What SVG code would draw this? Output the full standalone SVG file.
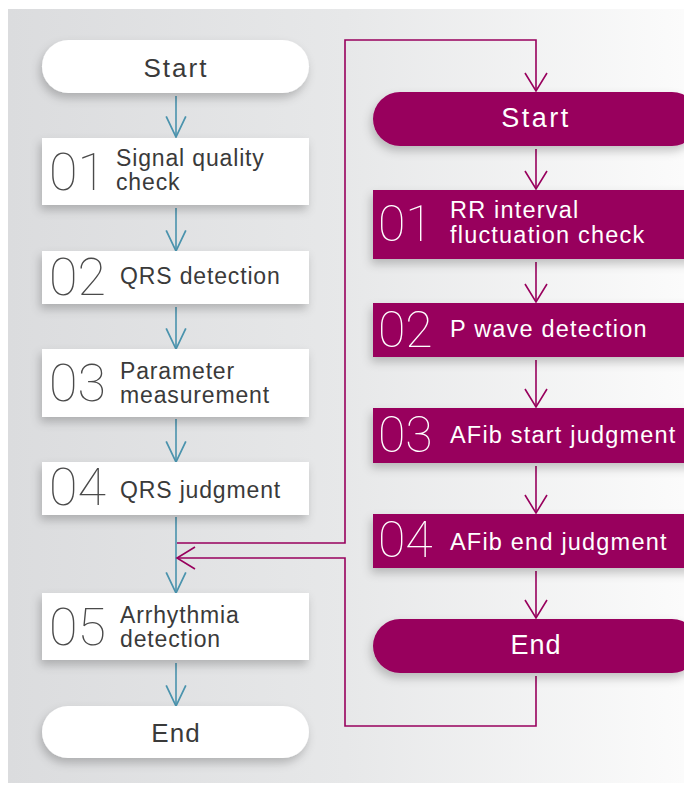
<svg xmlns="http://www.w3.org/2000/svg" width="684" height="785" viewBox="0 0 684 785">
<defs>
<linearGradient id="bg" x1="0" y1="0" x2="1" y2="0">
<stop offset="0" stop-color="#dbdcde"/>
<stop offset="0.5" stop-color="#e7e8e9"/>
<stop offset="1" stop-color="#fbfbfb"/>
</linearGradient>
<filter id="sh" x="-20%" y="-30%" width="140%" height="170%">
<feDropShadow dx="-2" dy="5" stdDeviation="5" flood-color="#000" flood-opacity="0.22"/>
</filter>
<marker id="ab" markerUnits="userSpaceOnUse" markerWidth="24" markerHeight="24" viewBox="-21 -11 22 22" refX="0" refY="0" orient="auto">
<path d="M-19,-9 L0,0 L-19,9" fill="none" stroke="#4a93ad" stroke-width="1.6"/>
</marker>
<marker id="ap" markerUnits="userSpaceOnUse" markerWidth="24" markerHeight="26" viewBox="-20 -13 22 26" refX="0" refY="0" orient="auto">
<path d="M-18,-11 L0,0 L-18,11" fill="none" stroke="#98005d" stroke-width="1.6"/>
</marker>
</defs>
<style>
.wb{fill:#ffffff;filter:url(#sh)}
.pb{fill:#98005d;filter:url(#sh)}
.bl{fill:none;stroke:#4a93ad;stroke-width:1.6;marker-end:url(#ab)}
.pl{fill:none;stroke:#98005d;stroke-width:1.6}
.pa{marker-end:url(#ap)}
.lt{font-family:"Liberation Sans",Arial,sans-serif;font-size:23px;letter-spacing:0.85px;fill:#3a3a3a}
.rt{font-family:"Liberation Sans",Arial,sans-serif;font-size:23.5px;letter-spacing:1.2px;fill:#ffffff}
.ln{font-family:Roboto,"Open Sans",sans-serif;font-weight:100;font-size:52px;fill:#4a4a4a}
.rn{font-family:Roboto,"Open Sans",sans-serif;font-weight:100;font-size:50px;fill:#ffffff}
.lterm{font-family:"Liberation Sans",Arial,sans-serif;font-size:26px;fill:#3a3a3a;text-anchor:middle}
.rterm{font-family:"Liberation Sans",Arial,sans-serif;font-size:27px;fill:#ffffff;text-anchor:middle}
</style>
<rect x="0" y="0" width="684" height="785" fill="#ffffff"/>
<rect x="8" y="9" width="676" height="774" fill="url(#bg)"/>

<g id="connectors">
<line class="bl" x1="176" y1="96" x2="176" y2="137"/>
<line class="bl" x1="176" y1="208" x2="176" y2="251"/>
<line class="bl" x1="176" y1="307" x2="176" y2="349"/>
<line class="bl" x1="176" y1="419" x2="176" y2="462"/>
<line class="bl" x1="176" y1="517" x2="176" y2="593"/>
<line class="bl" x1="176" y1="663" x2="176" y2="706"/>
<path class="pl pa" d="M177,543 H345 V40 H536 V91"/>
<path class="pl pa" d="M536,676 V726 H345 V558 H177"/>
<line class="pl pa" x1="536" y1="149" x2="536" y2="189"/>
<line class="pl pa" x1="536" y1="262" x2="536" y2="302"/>
<line class="pl pa" x1="536" y1="360" x2="536" y2="407"/>
<line class="pl pa" x1="536" y1="466" x2="536" y2="513"/>
<line class="pl pa" x1="536" y1="571" x2="536" y2="618"/>
</g>

<g id="l-start">
<rect class="wb" x="42" y="40" width="267" height="53" rx="26.5"/>
<text class="lterm" x="176" y="77" letter-spacing="2">Start</text>
</g>
<g id="l-01">
<rect class="wb" x="42" y="138" width="267" height="67"/>
<text class="ln" x="49" y="190">01</text>
<text class="lt" x="116" y="166">Signal quality</text>
<text class="lt" x="116" y="190">check</text>
</g>
<g id="l-02">
<rect class="wb" x="42" y="251" width="267" height="53"/>
<text class="ln" x="49" y="295">02</text>
<text class="lt" x="120" y="284">QRS detection</text>
</g>
<g id="l-03">
<rect class="wb" x="42" y="349" width="267" height="68"/>
<text class="ln" x="49" y="401">03</text>
<text class="lt" x="120" y="379">Parameter</text>
<text class="lt" x="120" y="403">measurement</text>
</g>
<g id="l-04">
<rect class="wb" x="42" y="462" width="267" height="53"/>
<text class="ln" x="49" y="505">04</text>
<text class="lt" x="120" y="498">QRS judgment</text>
</g>
<g id="l-05">
<rect class="wb" x="42" y="593" width="267" height="67"/>
<text class="ln" x="49" y="645">05</text>
<text class="lt" x="120" y="623">Arrhythmia</text>
<text class="lt" x="120" y="647">detection</text>
</g>
<g id="l-end">
<rect class="wb" x="42" y="706" width="267" height="52" rx="26"/>
<text class="lterm" x="176" y="742" letter-spacing="1">End</text>
</g>

<g id="r-start">
<rect class="pb" x="373" y="92" width="326" height="54" rx="27"/>
<text class="rterm" x="536" y="127" letter-spacing="2.5">Start</text>
</g>
<g id="r-01">
<rect class="pb" x="373" y="190" width="326" height="69"/>
<text class="rn" x="378" y="241">01</text>
<text class="rt" x="450" y="218">RR interval</text>
<text class="rt" x="450" y="243">fluctuation check</text>
</g>
<g id="r-02">
<rect class="pb" x="373" y="303" width="326" height="54"/>
<text class="rn" x="378" y="347">02</text>
<text class="rt" x="450" y="337">P wave detection</text>
</g>
<g id="r-03">
<rect class="pb" x="373" y="408" width="326" height="55"/>
<text class="rn" x="378" y="452">03</text>
<text class="rt" x="450" y="443">AFib start judgment</text>
</g>
<g id="r-04">
<rect class="pb" x="373" y="514" width="326" height="54"/>
<text class="rn" x="378" y="557">04</text>
<text class="rt" x="450" y="550">AFib end judgment</text>
</g>
<g id="r-end">
<rect class="pb" x="373" y="619" width="326" height="54" rx="27"/>
<text class="rterm" x="536" y="654" letter-spacing="1">End</text>
</g>
</svg>
